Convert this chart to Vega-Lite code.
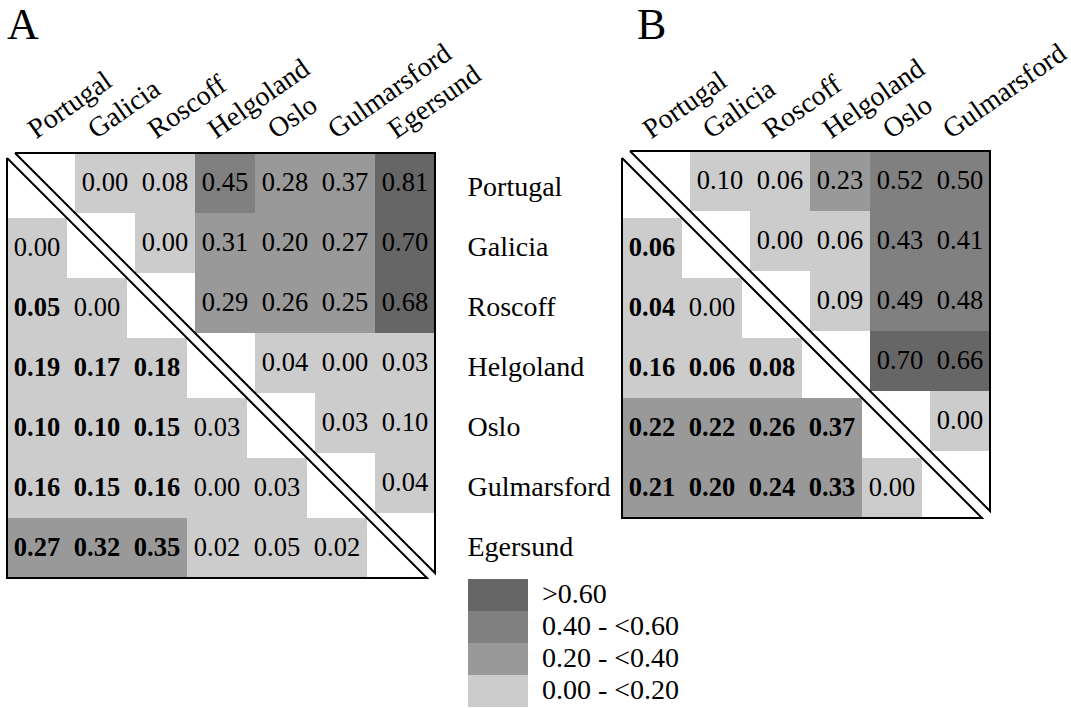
{
  "$schema": "https://vega.github.io/schema/vega-lite/v6.json",
  "padding": {"left": 4, "top": 3, "right": 5, "bottom": 0},
  "config": {"view": {"stroke": null}, "font": "Liberation Serif"},
  "datasets": {
    "A": [
      {"r": "Portugal", "c": "Galicia", "v": 0.00, "t": "u", "s": 0, "k": "0.00 - <0.20"},
      {"r": "Portugal", "c": "Roscoff", "v": 0.08, "t": "u", "s": 0, "k": "0.00 - <0.20"},
      {"r": "Portugal", "c": "Helgoland", "v": 0.45, "t": "u", "s": 0, "k": "0.40 - <0.60"},
      {"r": "Portugal", "c": "Oslo", "v": 0.28, "t": "u", "s": 0, "k": "0.20 - <0.40"},
      {"r": "Portugal", "c": "Gulmarsford", "v": 0.37, "t": "u", "s": 0, "k": "0.20 - <0.40"},
      {"r": "Portugal", "c": "Egersund", "v": 0.81, "t": "u", "s": 0, "k": ">0.60"},
      {"r": "Galicia", "c": "Roscoff", "v": 0.00, "t": "u", "s": 0, "k": "0.00 - <0.20"},
      {"r": "Galicia", "c": "Helgoland", "v": 0.31, "t": "u", "s": 0, "k": "0.20 - <0.40"},
      {"r": "Galicia", "c": "Oslo", "v": 0.20, "t": "u", "s": 0, "k": "0.20 - <0.40"},
      {"r": "Galicia", "c": "Gulmarsford", "v": 0.27, "t": "u", "s": 0, "k": "0.20 - <0.40"},
      {"r": "Galicia", "c": "Egersund", "v": 0.70, "t": "u", "s": 0, "k": ">0.60"},
      {"r": "Roscoff", "c": "Helgoland", "v": 0.29, "t": "u", "s": 0, "k": "0.20 - <0.40"},
      {"r": "Roscoff", "c": "Oslo", "v": 0.26, "t": "u", "s": 0, "k": "0.20 - <0.40"},
      {"r": "Roscoff", "c": "Gulmarsford", "v": 0.25, "t": "u", "s": 0, "k": "0.20 - <0.40"},
      {"r": "Roscoff", "c": "Egersund", "v": 0.68, "t": "u", "s": 0, "k": ">0.60"},
      {"r": "Helgoland", "c": "Oslo", "v": 0.04, "t": "u", "s": 0, "k": "0.00 - <0.20"},
      {"r": "Helgoland", "c": "Gulmarsford", "v": 0.00, "t": "u", "s": 0, "k": "0.00 - <0.20"},
      {"r": "Helgoland", "c": "Egersund", "v": 0.03, "t": "u", "s": 0, "k": "0.00 - <0.20"},
      {"r": "Oslo", "c": "Gulmarsford", "v": 0.03, "t": "u", "s": 0, "k": "0.00 - <0.20"},
      {"r": "Oslo", "c": "Egersund", "v": 0.10, "t": "u", "s": 0, "k": "0.00 - <0.20"},
      {"r": "Gulmarsford", "c": "Egersund", "v": 0.04, "t": "u", "s": 0, "k": "0.00 - <0.20"},
      {"r": "Galicia", "c": "Portugal", "v": 0.00, "t": "l", "s": 0, "k": "0.00 - <0.20"},
      {"r": "Roscoff", "c": "Portugal", "v": 0.05, "t": "l", "s": 1, "k": "0.00 - <0.20"},
      {"r": "Roscoff", "c": "Galicia", "v": 0.00, "t": "l", "s": 0, "k": "0.00 - <0.20"},
      {"r": "Helgoland", "c": "Portugal", "v": 0.19, "t": "l", "s": 1, "k": "0.00 - <0.20"},
      {"r": "Helgoland", "c": "Galicia", "v": 0.17, "t": "l", "s": 1, "k": "0.00 - <0.20"},
      {"r": "Helgoland", "c": "Roscoff", "v": 0.18, "t": "l", "s": 1, "k": "0.00 - <0.20"},
      {"r": "Oslo", "c": "Portugal", "v": 0.10, "t": "l", "s": 1, "k": "0.00 - <0.20"},
      {"r": "Oslo", "c": "Galicia", "v": 0.10, "t": "l", "s": 1, "k": "0.00 - <0.20"},
      {"r": "Oslo", "c": "Roscoff", "v": 0.15, "t": "l", "s": 1, "k": "0.00 - <0.20"},
      {"r": "Oslo", "c": "Helgoland", "v": 0.03, "t": "l", "s": 0, "k": "0.00 - <0.20"},
      {"r": "Gulmarsford", "c": "Portugal", "v": 0.16, "t": "l", "s": 1, "k": "0.00 - <0.20"},
      {"r": "Gulmarsford", "c": "Galicia", "v": 0.15, "t": "l", "s": 1, "k": "0.00 - <0.20"},
      {"r": "Gulmarsford", "c": "Roscoff", "v": 0.16, "t": "l", "s": 1, "k": "0.00 - <0.20"},
      {"r": "Gulmarsford", "c": "Helgoland", "v": 0.00, "t": "l", "s": 0, "k": "0.00 - <0.20"},
      {"r": "Gulmarsford", "c": "Oslo", "v": 0.03, "t": "l", "s": 0, "k": "0.00 - <0.20"},
      {"r": "Egersund", "c": "Portugal", "v": 0.27, "t": "l", "s": 1, "k": "0.20 - <0.40"},
      {"r": "Egersund", "c": "Galicia", "v": 0.32, "t": "l", "s": 1, "k": "0.20 - <0.40"},
      {"r": "Egersund", "c": "Roscoff", "v": 0.35, "t": "l", "s": 1, "k": "0.20 - <0.40"},
      {"r": "Egersund", "c": "Helgoland", "v": 0.02, "t": "l", "s": 0, "k": "0.00 - <0.20"},
      {"r": "Egersund", "c": "Oslo", "v": 0.05, "t": "l", "s": 0, "k": "0.00 - <0.20"},
      {"r": "Egersund", "c": "Gulmarsford", "v": 0.02, "t": "l", "s": 0, "k": "0.00 - <0.20"}
    ],
    "B": [
      {"r": "Portugal", "c": "Galicia", "v": 0.10, "t": "u", "s": 0, "k": "0.00 - <0.20"},
      {"r": "Portugal", "c": "Roscoff", "v": 0.06, "t": "u", "s": 0, "k": "0.00 - <0.20"},
      {"r": "Portugal", "c": "Helgoland", "v": 0.23, "t": "u", "s": 0, "k": "0.20 - <0.40"},
      {"r": "Portugal", "c": "Oslo", "v": 0.52, "t": "u", "s": 0, "k": "0.40 - <0.60"},
      {"r": "Portugal", "c": "Gulmarsford", "v": 0.50, "t": "u", "s": 0, "k": "0.40 - <0.60"},
      {"r": "Galicia", "c": "Roscoff", "v": 0.00, "t": "u", "s": 0, "k": "0.00 - <0.20"},
      {"r": "Galicia", "c": "Helgoland", "v": 0.06, "t": "u", "s": 0, "k": "0.00 - <0.20"},
      {"r": "Galicia", "c": "Oslo", "v": 0.43, "t": "u", "s": 0, "k": "0.40 - <0.60"},
      {"r": "Galicia", "c": "Gulmarsford", "v": 0.41, "t": "u", "s": 0, "k": "0.40 - <0.60"},
      {"r": "Roscoff", "c": "Helgoland", "v": 0.09, "t": "u", "s": 0, "k": "0.00 - <0.20"},
      {"r": "Roscoff", "c": "Oslo", "v": 0.49, "t": "u", "s": 0, "k": "0.40 - <0.60"},
      {"r": "Roscoff", "c": "Gulmarsford", "v": 0.48, "t": "u", "s": 0, "k": "0.40 - <0.60"},
      {"r": "Helgoland", "c": "Oslo", "v": 0.70, "t": "u", "s": 0, "k": ">0.60"},
      {"r": "Helgoland", "c": "Gulmarsford", "v": 0.66, "t": "u", "s": 0, "k": ">0.60"},
      {"r": "Oslo", "c": "Gulmarsford", "v": 0.00, "t": "u", "s": 0, "k": "0.00 - <0.20"},
      {"r": "Galicia", "c": "Portugal", "v": 0.06, "t": "l", "s": 1, "k": "0.00 - <0.20"},
      {"r": "Roscoff", "c": "Portugal", "v": 0.04, "t": "l", "s": 1, "k": "0.00 - <0.20"},
      {"r": "Roscoff", "c": "Galicia", "v": 0.00, "t": "l", "s": 0, "k": "0.00 - <0.20"},
      {"r": "Helgoland", "c": "Portugal", "v": 0.16, "t": "l", "s": 1, "k": "0.00 - <0.20"},
      {"r": "Helgoland", "c": "Galicia", "v": 0.06, "t": "l", "s": 1, "k": "0.00 - <0.20"},
      {"r": "Helgoland", "c": "Roscoff", "v": 0.08, "t": "l", "s": 1, "k": "0.00 - <0.20"},
      {"r": "Oslo", "c": "Portugal", "v": 0.22, "t": "l", "s": 1, "k": "0.20 - <0.40"},
      {"r": "Oslo", "c": "Galicia", "v": 0.22, "t": "l", "s": 1, "k": "0.20 - <0.40"},
      {"r": "Oslo", "c": "Roscoff", "v": 0.26, "t": "l", "s": 1, "k": "0.20 - <0.40"},
      {"r": "Oslo", "c": "Helgoland", "v": 0.37, "t": "l", "s": 1, "k": "0.20 - <0.40"},
      {"r": "Gulmarsford", "c": "Portugal", "v": 0.21, "t": "l", "s": 1, "k": "0.20 - <0.40"},
      {"r": "Gulmarsford", "c": "Galicia", "v": 0.20, "t": "l", "s": 1, "k": "0.20 - <0.40"},
      {"r": "Gulmarsford", "c": "Roscoff", "v": 0.24, "t": "l", "s": 1, "k": "0.20 - <0.40"},
      {"r": "Gulmarsford", "c": "Helgoland", "v": 0.33, "t": "l", "s": 1, "k": "0.20 - <0.40"},
      {"r": "Gulmarsford", "c": "Oslo", "v": 0.00, "t": "l", "s": 0, "k": "0.00 - <0.20"}
    ],
    "frame": [
      {"t": "u", "k": 0, "gx": 0, "gy": 0},
      {"t": "u", "k": 1, "gx": 1, "gy": 0},
      {"t": "u", "k": 2, "gx": 1, "gy": 1},
      {"t": "u", "k": 3, "gx": 0, "gy": 0},
      {"t": "l", "k": 0, "gx": 0, "gy": 0},
      {"t": "l", "k": 1, "gx": 0, "gy": 1},
      {"t": "l", "k": 2, "gx": 1, "gy": 1},
      {"t": "l", "k": 3, "gx": 0, "gy": 0}
    ]
  },
  "bounds": "flush",
  "spacing": 195,
  "resolve": {"scale": {"fill": "independent"}, "legend": {"fill": "independent"}},
  "hconcat": [
    {
      "width": 420,
      "height": 420,
      "title": {"text": "A", "anchor": "start", "frame": "group", "font": "Liberation Serif", "fontSize": 44, "fontWeight": "normal", "color": "black", "offset": -9, "dx": 0},
      "resolve": {"scale": {"x": "independent", "y": "independent"}},
      "layer": [
        {
          "data": {"name": "A"},
          "encoding": {
            "x": {"field": "c", "type": "nominal", "scale": {"domain": ["Portugal", "Galicia", "Roscoff", "Helgoland", "Oslo", "Gulmarsford", "Egersund"], "paddingInner": 0, "paddingOuter": 0},
              "axis": {"orient": "top", "title": null, "ticks": false, "tickSize": 0, "domain": false, "labelAngle": -35, "labelAlign": "left", "labelBaseline": "alphabetic", "labelPadding": 19, "labelOffset": -1, "labelFont": "Liberation Serif", "labelFontSize": 28, "labelColor": "black", "labelOverlap": false, "labelLimit": 0}},
            "y": {"field": "r", "type": "nominal", "scale": {"domain": ["Portugal", "Galicia", "Roscoff", "Helgoland", "Oslo", "Gulmarsford", "Egersund"], "paddingInner": 0, "paddingOuter": 0},
              "axis": {"orient": "right", "title": null, "ticks": false, "tickSize": 0, "domain": false, "labelAlign": "left", "labelBaseline": "middle", "labelPadding": 40, "labelFont": "Liberation Serif", "labelFontSize": 28, "labelColor": "black", "labelLimit": 0}}
          },
          "layer": [
            {"transform": [{"filter": "datum.t == 'l'"}], "mark": {"type": "rect"},
              "encoding": {"fill": {"field": "k", "type": "nominal",
                "scale": {"domain": [">0.60", "0.40 - <0.60", "0.20 - <0.40", "0.00 - <0.20"], "range": ["#666666", "#808080", "#999999", "#cccccc"]},
                "legend": {"orient": "none", "legendX": 461, "legendY": 421, "title": null, "symbolType": "M-1,-0.5333H1V0.5333H-1Z", "symbolSize": 3600, "clipHeight": 32, "rowPadding": 0, "labelOffset": 14, "labelFont": "Liberation Serif", "labelFontSize": 28, "labelColor": "black", "symbolStrokeWidth": 0, "symbolOpacity": 1, "padding": 0, "labelLimit": 0}}}},
            {"transform": [{"filter": "datum.t == 'u'"}], "mark": {"type": "rect", "xOffset": 8, "yOffset": -5},
              "encoding": {"fill": {"field": "k", "type": "nominal",
                "scale": {"domain": [">0.60", "0.40 - <0.60", "0.20 - <0.40", "0.00 - <0.20"], "range": ["#666666", "#808080", "#999999", "#cccccc"]}}}},
            {"transform": [{"filter": "datum.t == 'l' && datum.s == 0"}], "mark": {"type": "text", "font": "Liberation Serif", "fontSize": 26.5, "color": "black", "baseline": "middle"},
              "encoding": {"text": {"field": "v", "type": "quantitative", "format": ".2f"}}},
            {"transform": [{"filter": "datum.t == 'l' && datum.s == 1"}], "mark": {"type": "text", "font": "Liberation Serif", "fontSize": 26.5, "fontWeight": "bold", "color": "black", "baseline": "middle"},
              "encoding": {"text": {"field": "v", "type": "quantitative", "format": ".2f"}}},
            {"transform": [{"filter": "datum.t == 'u'"}], "mark": {"type": "text", "font": "Liberation Serif", "fontSize": 26.5, "color": "black", "baseline": "middle", "xOffset": 8, "yOffset": -5},
              "encoding": {"text": {"field": "v", "type": "quantitative", "format": ".2f"}}}
          ]
        },
        {
          "data": {"name": "frame"},
          "encoding": {
            "x": {"field": "gx", "type": "quantitative", "scale": {"domain": [0, 1], "nice": false, "zero": false}, "axis": null},
            "y": {"field": "gy", "type": "quantitative", "scale": {"domain": [0, 1], "nice": false, "zero": false, "reverse": true}, "axis": null},
            "order": {"field": "k", "type": "quantitative"}
          },
          "layer": [
            {"transform": [{"filter": "datum.t == 'l'"}], "mark": {"type": "line", "color": "black", "strokeWidth": 2, "strokeJoin": "miter", "strokeMiterLimit": 3}},
            {"transform": [{"filter": "datum.t == 'u'"}], "mark": {"type": "line", "color": "black", "strokeWidth": 2, "strokeJoin": "miter", "strokeMiterLimit": 3, "xOffset": 8, "yOffset": -5}}
          ]
        }
      ]
    },
    {
      "width": 360,
      "height": 360,
      "title": {"text": "B", "anchor": "start", "frame": "group", "font": "Liberation Serif", "fontSize": 44, "fontWeight": "normal", "color": "black", "offset": -9, "dx": 15},
      "resolve": {"scale": {"x": "independent", "y": "independent"}},
      "layer": [
        {
          "data": {"name": "B"},
          "encoding": {
            "x": {"field": "c", "type": "nominal", "scale": {"domain": ["Portugal", "Galicia", "Roscoff", "Helgoland", "Oslo", "Gulmarsford"], "paddingInner": 0, "paddingOuter": 0},
              "axis": {"orient": "top", "title": null, "ticks": false, "tickSize": 0, "domain": false, "labelAngle": -35, "labelAlign": "left", "labelBaseline": "alphabetic", "labelPadding": 19, "labelOffset": -1, "labelFont": "Liberation Serif", "labelFontSize": 28, "labelColor": "black", "labelOverlap": false, "labelLimit": 0}},
            "y": {"field": "r", "type": "nominal", "scale": {"domain": ["Portugal", "Galicia", "Roscoff", "Helgoland", "Oslo", "Gulmarsford"], "paddingInner": 0, "paddingOuter": 0}, "axis": null}
          },
          "layer": [
            {"transform": [{"filter": "datum.t == 'l'"}], "mark": {"type": "rect"},
              "encoding": {"fill": {"field": "k", "type": "nominal",
                "scale": {"domain": [">0.60", "0.40 - <0.60", "0.20 - <0.40", "0.00 - <0.20"], "range": ["#666666", "#808080", "#999999", "#cccccc"]}, "legend": null}}},
            {"transform": [{"filter": "datum.t == 'u'"}], "mark": {"type": "rect", "xOffset": 8, "yOffset": -7},
              "encoding": {"fill": {"field": "k", "type": "nominal",
                "scale": {"domain": [">0.60", "0.40 - <0.60", "0.20 - <0.40", "0.00 - <0.20"], "range": ["#666666", "#808080", "#999999", "#cccccc"]}, "legend": null}}},
            {"transform": [{"filter": "datum.t == 'l' && datum.s == 0"}], "mark": {"type": "text", "font": "Liberation Serif", "fontSize": 26.5, "color": "black", "baseline": "middle"},
              "encoding": {"text": {"field": "v", "type": "quantitative", "format": ".2f"}}},
            {"transform": [{"filter": "datum.t == 'l' && datum.s == 1"}], "mark": {"type": "text", "font": "Liberation Serif", "fontSize": 26.5, "fontWeight": "bold", "color": "black", "baseline": "middle"},
              "encoding": {"text": {"field": "v", "type": "quantitative", "format": ".2f"}}},
            {"transform": [{"filter": "datum.t == 'u'"}], "mark": {"type": "text", "font": "Liberation Serif", "fontSize": 26.5, "color": "black", "baseline": "middle", "xOffset": 8, "yOffset": -7},
              "encoding": {"text": {"field": "v", "type": "quantitative", "format": ".2f"}}}
          ]
        },
        {
          "data": {"name": "frame"},
          "encoding": {
            "x": {"field": "gx", "type": "quantitative", "scale": {"domain": [0, 1], "nice": false, "zero": false}, "axis": null},
            "y": {"field": "gy", "type": "quantitative", "scale": {"domain": [0, 1], "nice": false, "zero": false, "reverse": true}, "axis": null},
            "order": {"field": "k", "type": "quantitative"}
          },
          "layer": [
            {"transform": [{"filter": "datum.t == 'l'"}], "mark": {"type": "line", "color": "black", "strokeWidth": 2, "strokeJoin": "miter", "strokeMiterLimit": 3}},
            {"transform": [{"filter": "datum.t == 'u'"}], "mark": {"type": "line", "color": "black", "strokeWidth": 2, "strokeJoin": "miter", "strokeMiterLimit": 3, "xOffset": 8, "yOffset": -7}}
          ]
        }
      ]
    }
  ]
}
